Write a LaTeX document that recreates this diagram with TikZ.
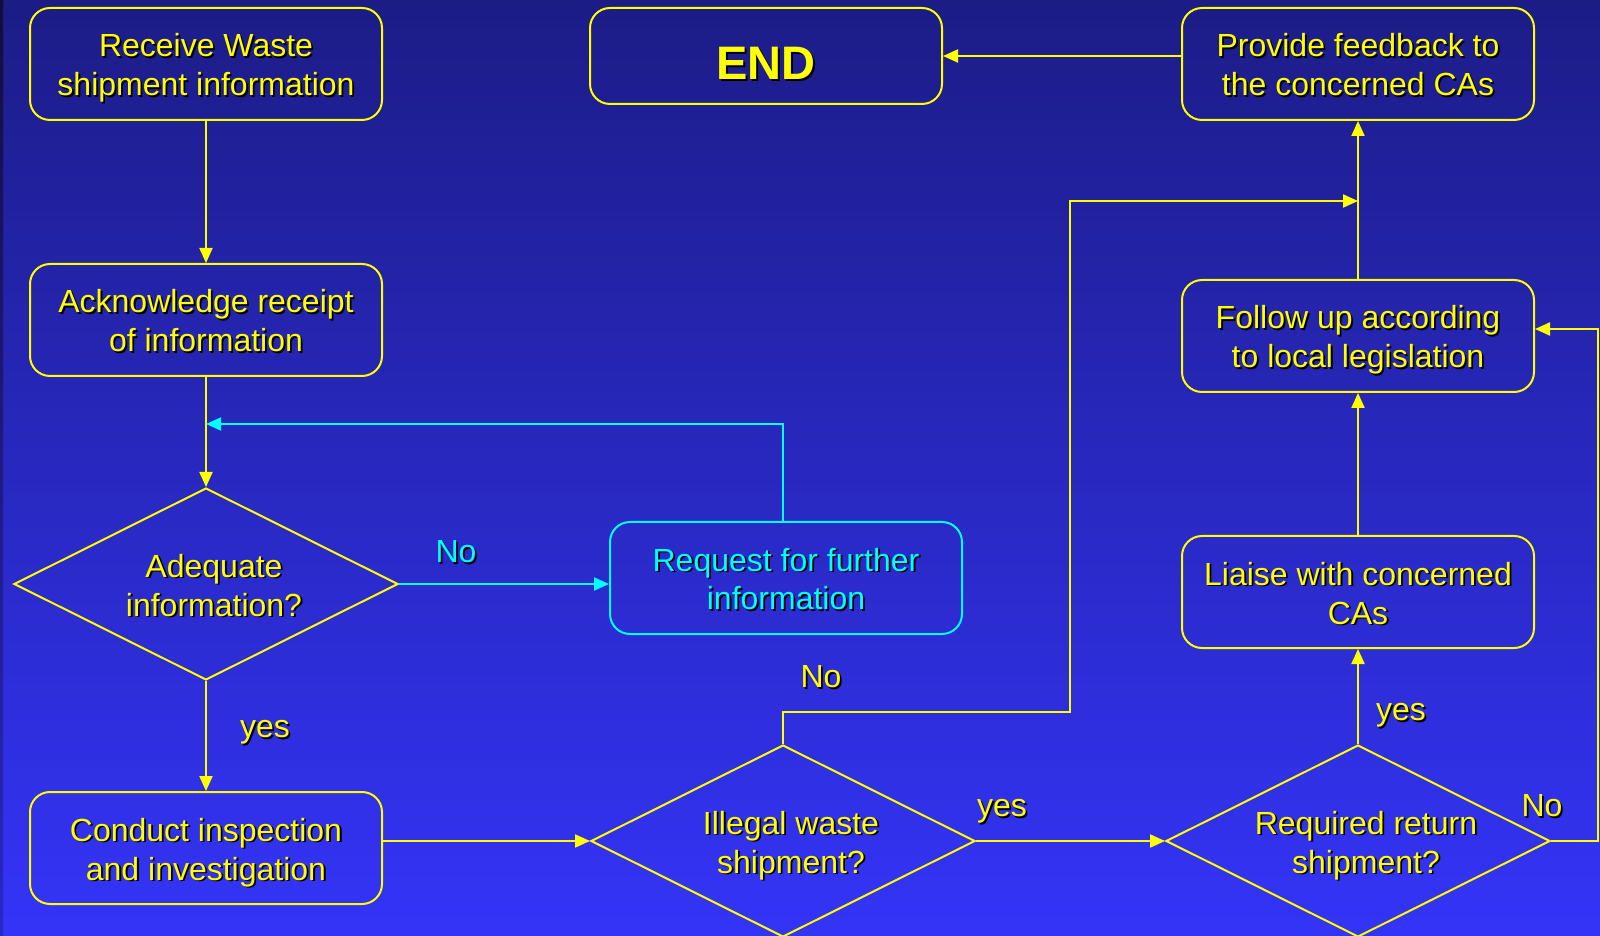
\documentclass[tikz,border=0pt]{standalone}
\usepackage{fontspec}
\setmainfont{Liberation Sans}
\usetikzlibrary{arrows.meta,shapes.geometric,calc}
\definecolor{bgtop}{RGB}{28,28,135}
\definecolor{bgmid}{RGB}{42,42,208}
\definecolor{bgbot}{RGB}{52,52,248}
\definecolor{edgetop}{RGB}{15,15,60}
\definecolor{edgebot}{RGB}{40,40,200}
\definecolor{ylw}{RGB}{255,255,0}
\definecolor{cyn}{RGB}{0,255,255}
\setlength{\lineskiplimit}{-100pt}
\newcommand\bs{\rule[-8pt]{0pt}{41pt}}
\newcommand\es{\rule[-2.6pt]{0pt}{52.6pt}}
\newcommand\shd[2][\bs]{\leavevmode\rlap{\smash{\kern1.8pt\raisebox{-1.8pt}{\color{black}#2}}}#2#1}
\newcommand\dln[1]{\makebox[0pt]{\hspace*{16pt}\shd{#1}}}
\begin{document}
\begin{tikzpicture}[x=1pt,y=1pt,
  every node/.style={font=\fontsize{32}{39}\selectfont},
  procbox/.style={draw=ylw,line width=2pt,rounded corners=20pt,minimum width=352pt,minimum height=112pt,text=ylw,align=center,inner sep=0pt},
  cynbox/.style={procbox,draw=cyn,text=cyn},
  decision/.style={diamond,aspect=2,draw=ylw,line width=2pt,minimum width=384pt,minimum height=192pt,text=ylw,align=center,inner sep=0pt},
  conn/.style={draw=ylw,line width=2pt,-{Triangle[length=15pt,width=13pt]}},
  cconn/.style={conn,draw=cyn},
  lbl/.style={text=ylw,inner sep=0pt},
  clbl/.style={text=cyn,inner sep=0pt}]
\useasboundingbox (0,0) rectangle (1600,935);
\shade[top color=bgtop,middle color=bgmid,bottom color=bgbot] (0,0) rectangle (1600,935);
\shade[top color=edgetop,bottom color=edgebot] (0,0) rectangle (3,935);
% nodes
\node[procbox] (receive) at (206,871) {\shd{Receive Waste}\\\shd{shipment information}};
\node[procbox,minimum height=96pt,font=\fontsize{47}{50}\selectfont\bfseries] (endn) at (766,879) {\shd[\es]{END}};
\node[procbox] (provide) at (1358,871) {\shd{Provide feedback to}\\\shd{the concerned CAs}};
\node[procbox] (ack) at (206,615) {\shd{Acknowledge receipt}\\\shd{of information}};
\node[procbox] (follow) at (1358,599) {\shd{Follow up according}\\\shd{to local legislation}};
\node[decision] (adequate) at (206,351) {\dln{Adequate}\\\dln{information?}};
\node[cynbox] (request) at (786,357) {\shd{Request for further}\\\shd{information}};
\node[procbox] (liaise) at (1358,343) {\shd{Liaise with concerned}\\\shd{CAs}};
\node[procbox] (conduct) at (206,87) {\shd{Conduct inspection}\\\shd{and investigation}};
\node[decision] (illegal) at (783,94) {\dln{Illegal waste}\\\dln{shipment?}};
\node[decision] (required) at (1358,94) {\dln{Required return}\\\dln{shipment?}};
% labels
\node[clbl] (lno1) at (456,385) {\shd{No}};
\node[lbl] (lyes1) at (265,210) {\shd{yes}};
\node[lbl] (lyes2) at (1002,131) {\shd{yes}};
\node[lbl] (lno2) at (821,260) {\shd{No}};
\node[lbl] (lyes3) at (1401,227) {\shd{yes}};
\node[lbl] (lno3) at (1542,131) {\shd{No}};
% coordinates
\coordinate (cj) at (206,511);
\coordinate (n1) at (783,223);
\coordinate (n2) at (1070,223);
\coordinate (n3) at (1070,734);
\coordinate (n4) at (1358,734);
\coordinate (r1) at (1598,606);
% connectors
\draw[conn] (receive.south) -- (ack.north);
\draw[conn] (ack.south) -- (adequate.north);
\draw[cconn] (illegal.north |- request.north) |- (cj);
\draw[cconn] (adequate.east) -- (adequate.east -| request.west);
\draw[conn] (adequate.south) -- (conduct.north);
\draw[conn] (conduct.east |- illegal.west) -- (illegal.west);
\draw[conn] (illegal.east) -- (required.west);
\draw[conn] (illegal.north) -- (n1) -- (n2) -- (n3) -- (n4);
\draw[conn] (required.north) -- (liaise.south);
\draw[conn] (required.east) -| (r1) -- (r1 -| follow.east);
\draw[conn] (liaise.north) -- (follow.south);
\draw[conn] (follow.north) -- (provide.south);
\draw[conn] (provide.west |- endn.east) -- (endn.east);
\end{tikzpicture}
\end{document}
